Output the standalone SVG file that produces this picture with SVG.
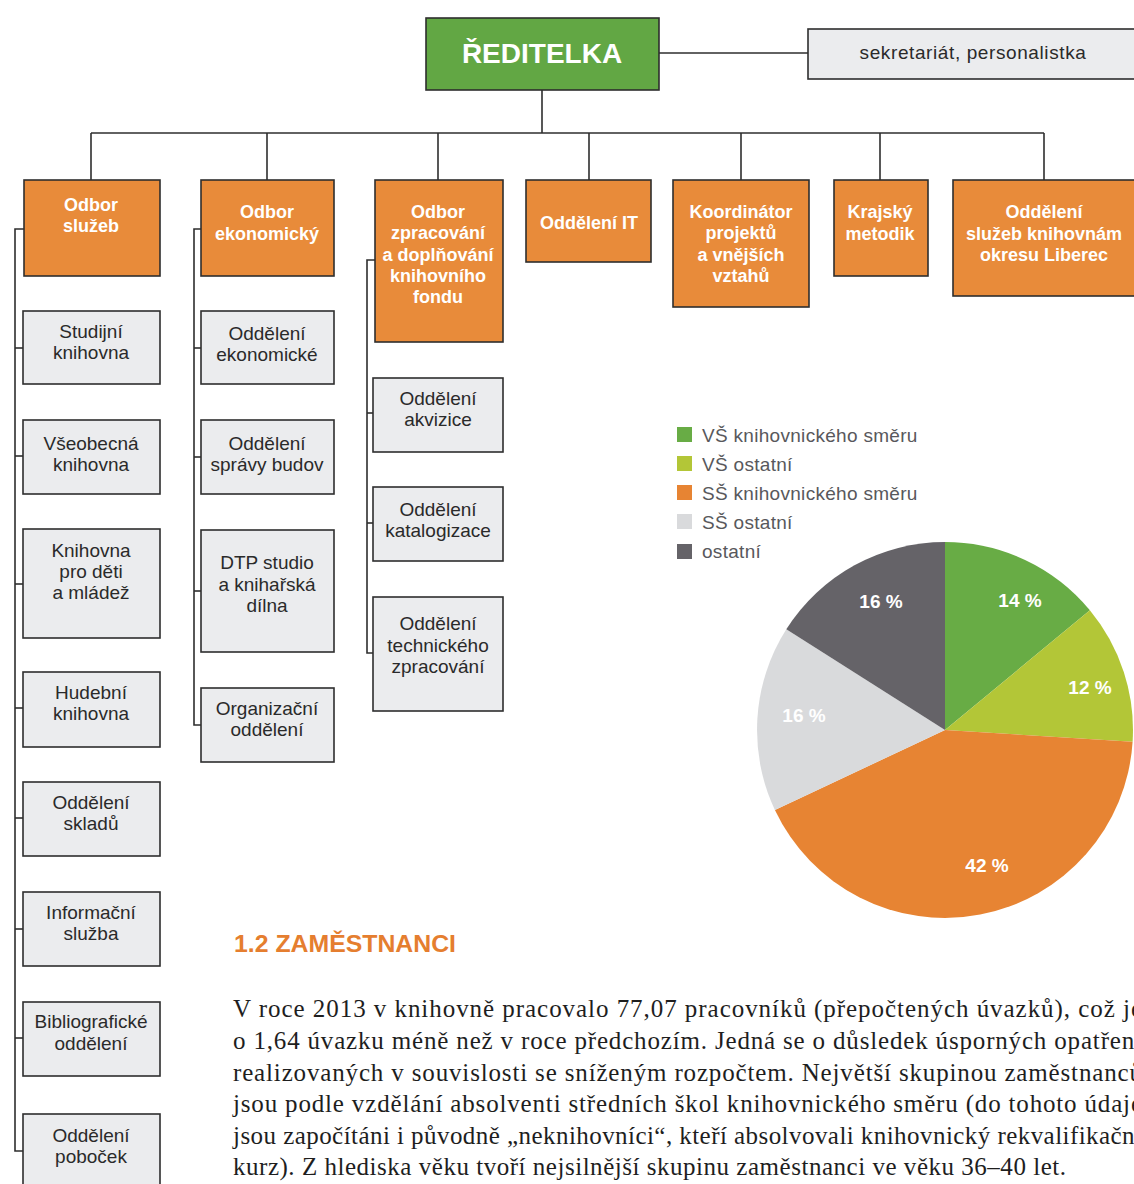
<svg xmlns="http://www.w3.org/2000/svg" width="1134" height="1184" viewBox="0 0 1134 1184">
<style>
  .line{stroke:#2e2e2e;stroke-width:1.6;fill:none}
  .top{fill:#62a744;stroke:#2e2e2e;stroke-width:1.6}
  .org{fill:#e88b3a;stroke:#2e2e2e;stroke-width:1.6}
  .gry{fill:#ebecee;stroke:#2e2e2e;stroke-width:1.6}
  .tw{font-family:"Liberation Sans",Arial,sans-serif;font-weight:bold;font-size:18px;fill:#ffffff;text-anchor:middle}
  .tg{font-family:"Liberation Sans",Arial,sans-serif;font-size:19px;fill:#2a2a2a;text-anchor:middle}
  .lg{font-family:"Liberation Sans",Arial,sans-serif;font-size:19px;fill:#58585c;letter-spacing:0.3px}
  .pl{font-family:"Liberation Sans",Arial,sans-serif;font-weight:bold;font-size:19px;fill:#ffffff;text-anchor:middle}
  .body{font-family:"Liberation Serif","Times New Roman",serif;font-size:25px;fill:#1e1e1e}
</style>

<g id="connectors">
  <line class="line" x1="659" y1="53" x2="808" y2="53"/>
  <line class="line" x1="542" y1="90" x2="542" y2="133"/>
  <line class="line" x1="91" y1="133" x2="1044" y2="133"/>
  <line class="line" x1="91" y1="133" x2="91" y2="180"/>
  <line class="line" x1="267" y1="133" x2="267" y2="180"/>
  <line class="line" x1="438" y1="133" x2="438" y2="180"/>
  <line class="line" x1="589" y1="133" x2="589" y2="180"/>
  <line class="line" x1="741" y1="133" x2="741" y2="180"/>
  <line class="line" x1="880" y1="133" x2="880" y2="180"/>
  <line class="line" x1="1044" y1="133" x2="1044" y2="180"/>
  <polyline class="line" points="24,229 15,229 15,1151 23,1151"/>
  <line class="line" x1="15" y1="348" x2="23" y2="348"/>
  <line class="line" x1="15" y1="456" x2="23" y2="456"/>
  <line class="line" x1="15" y1="584" x2="23" y2="584"/>
  <line class="line" x1="15" y1="708" x2="23" y2="708"/>
  <line class="line" x1="15" y1="818" x2="23" y2="818"/>
  <line class="line" x1="15" y1="929" x2="23" y2="929"/>
  <line class="line" x1="15" y1="1038" x2="23" y2="1038"/>
  <polyline class="line" points="201,229 194,229 194,725 201,725"/>
  <line class="line" x1="194" y1="348" x2="201" y2="348"/>
  <line class="line" x1="194" y1="457" x2="201" y2="457"/>
  <line class="line" x1="194" y1="591" x2="201" y2="591"/>
  <polyline class="line" points="375,260 367,260 367,653 373,653"/>
  <line class="line" x1="367" y1="413" x2="373" y2="413"/>
  <line class="line" x1="367" y1="523" x2="373" y2="523"/>
</g>

<g id="reditelka">
  <rect class="top" x="426" y="18" width="233" height="72"/>
  <text x="542" y="63" font-family="Liberation Sans, Arial, sans-serif" font-weight="bold" font-size="28" fill="#ffffff" text-anchor="middle">ŘEDITELKA</text>
</g>
<g id="sekretariat">
  <rect class="gry" x="808" y="29" width="332" height="50"/>
  <text class="tg" x="973" y="59" letter-spacing="0.6">sekretariát, personalistka</text>
</g>

<g id="odbor-sluzeb">
  <rect class="org" x="24" y="180" width="136" height="96"/>
  <text class="tw" x="91" y="211">Odbor</text>
  <text class="tw" x="91" y="232">služeb</text>
</g>
<g id="odbor-ekonomicky">
  <rect class="org" x="201" y="180" width="133" height="96"/>
  <text class="tw" x="267" y="218">Odbor</text>
  <text class="tw" x="267" y="240">ekonomický</text>
</g>
<g id="odbor-zpracovani">
  <rect class="org" x="375" y="180" width="128" height="162"/>
  <text class="tw" x="438" y="218">Odbor</text>
  <text class="tw" x="438" y="239">zpracování</text>
  <text class="tw" x="438" y="261">a doplňování</text>
  <text class="tw" x="438" y="282">knihovního</text>
  <text class="tw" x="438" y="303">fondu</text>
</g>
<g id="oddeleni-it">
  <rect class="org" x="526" y="180" width="125" height="82"/>
  <text class="tw" x="589" y="229">Oddělení IT</text>
</g>
<g id="koordinator">
  <rect class="org" x="673" y="180" width="136" height="127"/>
  <text class="tw" x="741" y="218">Koordinátor</text>
  <text class="tw" x="741" y="239">projektů</text>
  <text class="tw" x="741" y="261">a vnějších</text>
  <text class="tw" x="741" y="282">vztahů</text>
</g>
<g id="krajsky-metodik">
  <rect class="org" x="834" y="180" width="94" height="96"/>
  <text class="tw" x="880" y="218">Krajský</text>
  <text class="tw" x="880" y="240">metodik</text>
</g>
<g id="oddeleni-okresu">
  <rect class="org" x="953" y="180" width="184" height="116"/>
  <text class="tw" x="1044" y="218">Oddělení</text>
  <text class="tw" x="1044" y="240">služeb knihovnám</text>
  <text class="tw" x="1044" y="261">okresu Liberec</text>
</g>

<g id="studijni">
  <rect class="gry" x="23" y="311" width="137" height="73"/>
  <text class="tg" x="91" y="338">Studijní</text>
  <text class="tg" x="91" y="359">knihovna</text>
</g>
<g id="vseobecna">
  <rect class="gry" x="23" y="420" width="137" height="74"/>
  <text class="tg" x="91" y="450">Všeobecná</text>
  <text class="tg" x="91" y="471">knihovna</text>
</g>
<g id="deti">
  <rect class="gry" x="23" y="529" width="137" height="109"/>
  <text class="tg" x="91" y="557">Knihovna</text>
  <text class="tg" x="91" y="578">pro děti</text>
  <text class="tg" x="91" y="599">a mládež</text>
</g>
<g id="hudebni">
  <rect class="gry" x="23" y="672" width="137" height="75"/>
  <text class="tg" x="91" y="699">Hudební</text>
  <text class="tg" x="91" y="720">knihovna</text>
</g>
<g id="sklady">
  <rect class="gry" x="23" y="782" width="137" height="74"/>
  <text class="tg" x="91" y="809">Oddělení</text>
  <text class="tg" x="91" y="830">skladů</text>
</g>
<g id="informacni">
  <rect class="gry" x="23" y="892" width="137" height="74"/>
  <text class="tg" x="91" y="919">Informační</text>
  <text class="tg" x="91" y="940">služba</text>
</g>
<g id="bibliograficke">
  <rect class="gry" x="23" y="1002" width="137" height="74"/>
  <text class="tg" x="91" y="1028">Bibliografické</text>
  <text class="tg" x="91" y="1050">oddělení</text>
</g>
<g id="pobocky">
  <rect class="gry" x="23" y="1114" width="137" height="80"/>
  <text class="tg" x="91" y="1142">Oddělení</text>
  <text class="tg" x="91" y="1163">poboček</text>
</g>

<g id="ekonomicke">
  <rect class="gry" x="201" y="311" width="133" height="73"/>
  <text class="tg" x="267" y="340">Oddělení</text>
  <text class="tg" x="267" y="361">ekonomické</text>
</g>
<g id="spravy-budov">
  <rect class="gry" x="201" y="420" width="133" height="74"/>
  <text class="tg" x="267" y="450">Oddělení</text>
  <text class="tg" x="267" y="471">správy budov</text>
</g>
<g id="dtp">
  <rect class="gry" x="201" y="530" width="133" height="122"/>
  <text class="tg" x="267" y="569">DTP studio</text>
  <text class="tg" x="267" y="591">a knihařská</text>
  <text class="tg" x="267" y="612">dílna</text>
</g>
<g id="organizacni">
  <rect class="gry" x="201" y="688" width="133" height="74"/>
  <text class="tg" x="267" y="715">Organizační</text>
  <text class="tg" x="267" y="736">oddělení</text>
</g>

<g id="akvizice">
  <rect class="gry" x="373" y="378" width="130" height="74"/>
  <text class="tg" x="438" y="405">Oddělení</text>
  <text class="tg" x="438" y="426">akvizice</text>
</g>
<g id="katalogizace">
  <rect class="gry" x="373" y="487" width="130" height="74"/>
  <text class="tg" x="438" y="516">Oddělení</text>
  <text class="tg" x="438" y="537">katalogizace</text>
</g>
<g id="technicke">
  <rect class="gry" x="373" y="597" width="130" height="114"/>
  <text class="tg" x="438" y="630">Oddělení</text>
  <text class="tg" x="438" y="652">technického</text>
  <text class="tg" x="438" y="673">zpracování</text>
</g>

<g id="legend">
  <rect x="677" y="427" width="15" height="15" fill="#68ac45"/>
  <text class="lg" x="702" y="442">VŠ knihovnického směru</text>
  <rect x="677" y="456" width="15" height="15" fill="#b3c637"/>
  <text class="lg" x="702" y="471">VŠ ostatní</text>
  <rect x="677" y="485" width="15" height="15" fill="#e78433"/>
  <text class="lg" x="702" y="500">SŠ knihovnického směru</text>
  <rect x="677" y="514" width="15" height="15" fill="#d9dadc"/>
  <text class="lg" x="702" y="529">SŠ ostatní</text>
  <rect x="677" y="544" width="15" height="15" fill="#656368"/>
  <text class="lg" x="702" y="558">ostatní</text>
</g>

<g id="pie">
  <path d="M945,730 L945,542 A188,188 0 0 1 1089.9,610.2 Z" fill="#68ac45"/>
  <path d="M945,730 L1089.9,610.2 A188,188 0 0 1 1132.6,741.8 Z" fill="#b3c637"/>
  <path d="M945,730 L1132.6,741.8 A188,188 0 0 1 774.9,810 Z" fill="#e78433"/>
  <path d="M945,730 L774.9,810 A188,188 0 0 1 786.3,629.3 Z" fill="#d9dadc"/>
  <path d="M945,730 L786.3,629.3 A188,188 0 0 1 945,542 Z" fill="#656368"/>
  <text class="pl" x="1020" y="607">14 %</text>
  <text class="pl" x="1090" y="694">12 %</text>
  <text class="pl" x="987" y="872">42 %</text>
  <text class="pl" x="804" y="722">16 %</text>
  <text class="pl" x="881" y="608">16 %</text>
</g>

<text x="234" y="952" font-family="Liberation Sans, Arial, sans-serif" font-weight="bold" font-size="23" fill="#e57e2f" textLength="222" lengthAdjust="spacingAndGlyphs">1.2 ZAMĚSTNANCI</text>
<g id="paragraph" class="body">
  <text x="233" y="1017" textLength="909" lengthAdjust="spacing">V roce 2013 v knihovně pracovalo 77,07 pracovníků (přepočtených úvazků), což je</text>
  <text x="233" y="1049" textLength="909" lengthAdjust="spacing">o 1,64 úvazku méně než v roce předchozím. Jedná se o důsledek úsporných opatření</text>
  <text x="233" y="1081" textLength="909" lengthAdjust="spacing">realizovaných v souvislosti se sníženým rozpočtem. Největší skupinou zaměstnanců</text>
  <text x="233" y="1112" textLength="909" lengthAdjust="spacing">jsou podle vzdělání absolventi středních škol knihovnického směru (do tohoto údaje</text>
  <text x="233" y="1144" textLength="909" lengthAdjust="spacing">jsou započítáni i původně „neknihovníci“, kteří absolvovali knihovnický rekvalifikační</text>
  <text x="233" y="1175" textLength="833" lengthAdjust="spacing">kurz). Z hlediska věku tvoří nejsilnější skupinu zaměstnanci ve věku 36–40 let.</text>
</g>
</svg>
